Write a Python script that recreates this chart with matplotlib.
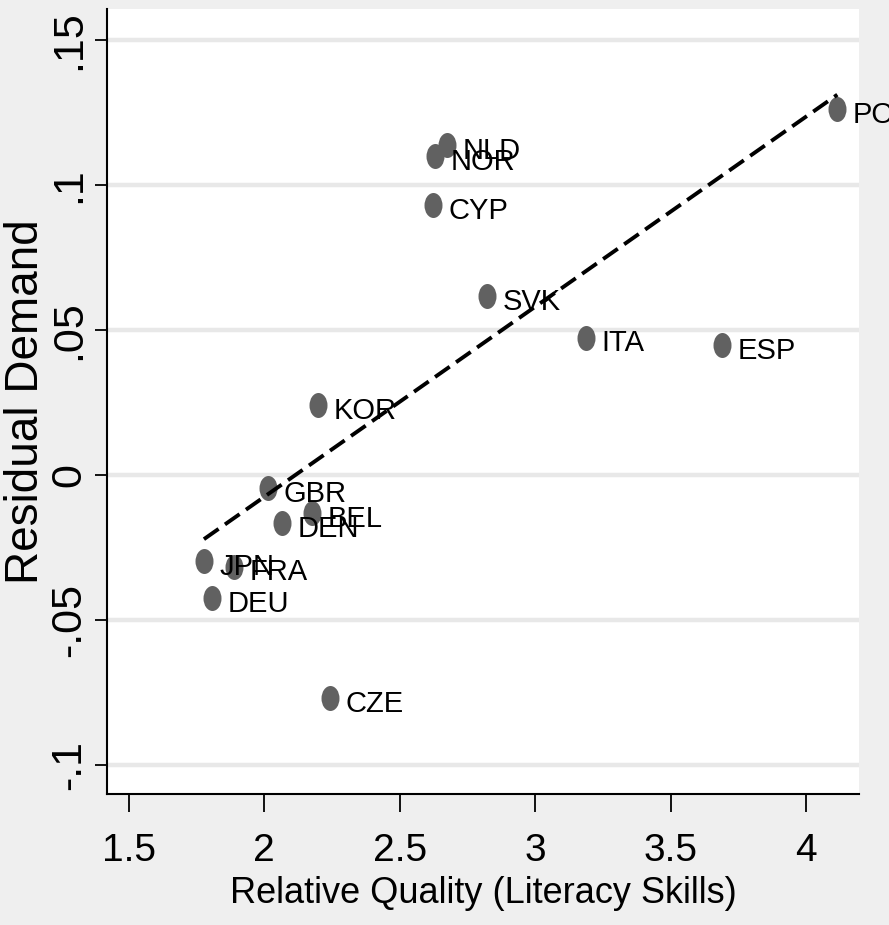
import numpy as np
import matplotlib
matplotlib.use("Agg")
import matplotlib.pyplot as plt
from matplotlib.path import Path
from matplotlib.transforms import Affine2D

# Données
pays = ["POL", "NLD", "NOR", "CYP", "SVK", "ITA", "ESP", "KOR",
        "GBR", "BEL", "DEN", "JPN", "FRA", "DEU", "CZE"]
qualite = [4.116, 2.675, 2.631, 2.623, 2.823, 3.189, 3.691, 2.198,
           2.014, 2.176, 2.065, 1.777, 1.888, 1.807, 2.243]
demande = [0.1262, 0.1138, 0.1100, 0.0931, 0.0617, 0.0473, 0.0448, 0.0241,
           -0.0045, -0.0131, -0.0166, -0.0297, -0.0317, -0.0424, -0.0769]

xticks = [1.5, 2, 2.5, 3, 3.5, 4]
xtick_labels = ["1.5", "2", "2.5", "3", "3.5", "4"]
yticks = [-0.1, -0.05, 0, 0.05, 0.1, 0.15]
ytick_labels = ["-.1", "-.05", "0", ".05", ".1", ".15"]

police = ["Liberation Sans", "DejaVu Sans"]

fond = "#efefef"
gris = "#616161"

# Marqueur ellipse (image compressée horizontalement)
ellipse = Path.unit_circle().transformed(Affine2D().scale(0.72, 1.0))

fig = plt.figure(figsize=(8.89, 9.25), dpi=100, facecolor=fond)
ax = fig.add_axes([107/889, 1 - 794/925, (859 - 107)/889, (794 - 9)/925])
ax.set_facecolor("white")

ax.set_xlim(1.419, 4.196)
ax.set_ylim(-0.110, 0.1607)

# Grille horizontale
for yv in yticks:
    ax.axhline(yv, color="#e8e8e8", lw=3.2, zorder=1)

# Points
x = np.array(qualite)
y = np.array(demande)
ax.plot(x, y, linestyle="none", marker=ellipse, markersize=18,
        color=gris, markeredgewidth=0, zorder=3)

# Étiquettes des pays
for nom, xi, yi in zip(pays, x, y):
    ax.annotate(nom, (xi, yi), xytext=(11, -4), textcoords="offset points",
                ha="left", va="center", fontsize=21, family=police,
                color="black", clip_on=False, annotation_clip=False, zorder=3)

# Droite de régression
pente, origine = np.polyfit(x, y, 1)
xs = np.array([x.min(), x.max()])
ax.plot(xs, origine + pente*xs, color="black", lw=2.8,
        dashes=(4.6, 2.0), zorder=4)

# Axes
for s in ["top", "right"]:
    ax.spines[s].set_visible(False)
for s in ["left", "bottom"]:
    ax.spines[s].set_linewidth(1.5)
    ax.spines[s].set_color("black")

ax.set_xticks(xticks)
ax.set_xticklabels(xtick_labels, family=police, fontsize=28)
ax.set_yticks(yticks)
ax.set_yticklabels(ytick_labels, family=police, fontsize=31,
                   rotation=90, va="center")
ax.tick_params(axis="x", length=13, width=1.3, pad=15)
ax.tick_params(axis="y", length=9, width=1.3, pad=4)

ax.set_xlabel("Relative Quality (Literacy Skills)", family=police, fontsize=26)
ax.xaxis.set_label_coords(0.5, -0.1045)
ax.set_ylabel("Residual Demand", family=police, fontsize=33, labelpad=1)

fig.savefig("out.png", dpi=100, facecolor=fond)
